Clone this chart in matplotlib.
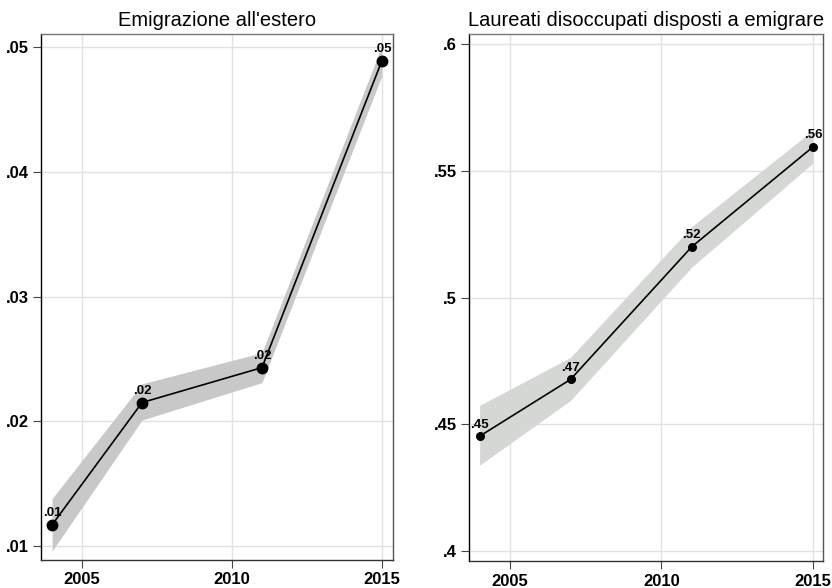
import numpy as np
import matplotlib
matplotlib.use("Agg")
import matplotlib.pyplot as plt

plt.rcParams['font.family'] = ['Liberation Sans', 'DejaVu Sans']

years = [2004, 2007, 2011, 2015]

# left panel: emigrazione all'estero
emig = [0.0117, 0.0215, 0.0243, 0.0489]
emig_lo = [0.0096, 0.0201, 0.0231, 0.0477]
emig_hi = [0.0138, 0.0230, 0.0255, 0.0501]
emig_lab = ['.01', '.02', '.02', '.05']
emig_yticks = [0.01, 0.02, 0.03, 0.04, 0.05]
emig_yticklabels = ['.01', '.02', '.03', '.04', '.05']

# right panel: laureati disoccupati disposti a emigrare
laur = [0.4453, 0.4677, 0.5200, 0.5594]
laur_lo = [0.4339, 0.4594, 0.5120, 0.5530]
laur_hi = [0.4575, 0.4764, 0.5280, 0.5660]
laur_lab = ['.45', '.47', '.52', '.56']
laur_yticks = [0.4, 0.45, 0.5, 0.55, 0.6]
laur_yticklabels = ['.4', '.45', '.5', '.55', '.6']

xticks = [2005, 2010, 2015]

fig = plt.figure(figsize=(8.32, 5.88), dpi=100)
ax1 = fig.add_axes([41/832, 28/588, 352/832, 526/588])
ax2 = fig.add_axes([469/832, 27/588, 354/832, 527/588])


def panel(ax, y, lo, hi, labs, yt, ytl, ylim, xlim, title, band, msize):
    ax.fill_between(years, lo, hi, color=band, lw=0, zorder=1)
    ax.plot(years, y, color='black', lw=1.2, zorder=2)
    ax.plot(years, y, 'o', color='black', ms=msize, zorder=3)
    for xx, yy, t in zip(years, y, labs):
        ax.annotate(t, (xx, yy), xytext=(0, 4), textcoords='offset points',
                    ha='center', va='bottom', fontsize=9.5, fontweight='bold')
    ax.set_xlim(xlim)
    ax.set_ylim(ylim)
    ax.set_xticks(xticks)
    ax.set_xticklabels([str(v) for v in xticks])
    ax.set_yticks(yt)
    ax.set_yticklabels(ytl)
    ax.grid(True, color='#e2e2e2', lw=1, zorder=0)
    ax.set_axisbelow(True)
    ax.tick_params(axis='both', labelsize=12, length=6, width=0.8,
                   color='#444444', pad=3)
    for lab in ax.get_xticklabels() + ax.get_yticklabels():
        lab.set_fontweight('bold')
    ax.spines['left'].set_color('black')
    ax.spines['bottom'].set_color('#333333')
    ax.spines['top'].set_color('#777777')
    ax.spines['right'].set_color('#555555')
    for s in ax.spines.values():
        s.set_linewidth(1.0)
    ax.set_title(title, fontsize=14.5, pad=6)


panel(ax1, emig, emig_lo, emig_hi, emig_lab, emig_yticks, emig_yticklabels,
      (0.00888, 0.05104), (2003.63, 2015.37), "Emigrazione all'estero", '#c8c8c8', 7.5)
panel(ax2, laur, laur_lo, laur_hi, laur_lab, laur_yticks, laur_yticklabels,
      (0.3961, 0.6039), (2003.65, 2015.33), 'Laureati disoccupati disposti a emigrare',
      '#d5d7d5', 5.5)

fig.savefig('out.png', dpi=100)
